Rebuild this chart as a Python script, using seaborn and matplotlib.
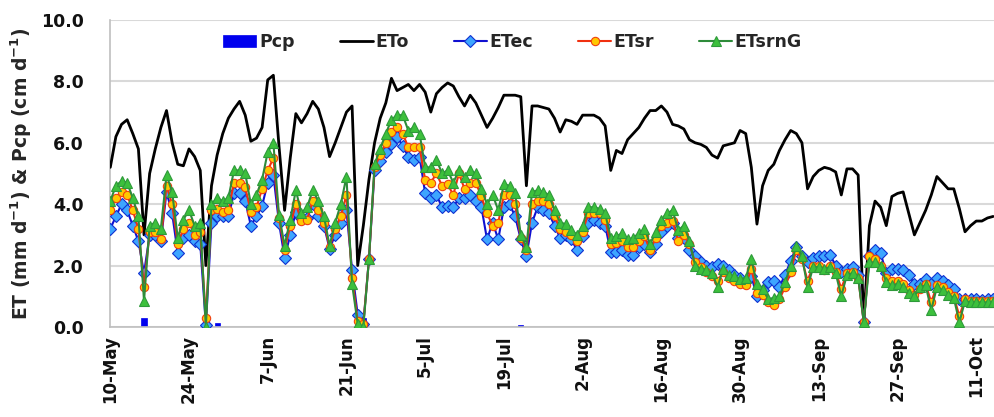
import matplotlib
matplotlib.use("Agg")
import numpy as np
import pandas as pd
import matplotlib.pyplot as plt
import matplotlib.dates as mdates
from matplotlib.ticker import FixedLocator, MultipleLocator, FormatStrFormatter
import seaborn as sns

# ---------------- data (daily, starting 10-May) ----------------
start_date = "2013-05-10"

ETo = [
    5.2, 6.2, 6.6, 6.75, 6.3, 5.8, 3.0, 5.0, 5.8, 6.5,
    7.05, 6.0, 5.3, 5.25, 5.8, 5.55, 5.1, 2.0, 4.6, 5.6,
    6.3, 6.8, 7.1, 7.35, 6.9, 6.05, 6.15, 6.5, 8.05, 8.2,
    5.9, 3.8, 5.5, 6.95, 6.65, 6.95, 7.35, 7.1, 6.5, 5.55,
    6.0, 6.5, 7.0, 7.2, 2.0, 3.3, 4.8, 6.0, 6.8, 7.3,
    8.1, 7.7, 7.8, 7.9, 7.7, 7.9, 7.65, 7.0, 7.6, 7.8,
    7.95, 7.85, 7.5, 7.2, 7.55, 7.3, 6.9, 6.5, 6.8, 7.15,
    7.55, 7.55, 7.55, 7.5, 4.6, 7.2, 7.2, 7.15, 7.1, 6.8,
    6.35, 6.75, 6.7, 6.6, 6.9, 6.9, 6.9, 6.8, 6.55, 5.1,
    5.75, 5.65, 6.1, 6.3, 6.5, 6.8, 7.05, 7.05, 7.2, 7.0,
    6.6, 6.55, 6.45, 6.1, 6.0, 5.95, 5.85, 5.6, 5.5, 5.9,
    5.95, 6.0, 6.4, 6.3, 5.2, 3.35, 4.6, 5.1, 5.3, 5.75,
    6.1, 6.4, 6.3, 6.0, 4.5, 4.9, 5.1, 5.2, 5.15, 5.05,
    4.3, 5.15, 5.15, 4.95, 0.15, 3.3, 4.1, 3.9, 3.3, 4.25,
    4.35, 4.4, 3.7, 3.0, 3.4, 3.8, 4.3, 4.9, 4.7, 4.5,
    4.5, 3.85, 3.1, 3.3, 3.45, 3.45, 3.55, 3.6,
]

ETec = [
    3.2, 3.6, 4.0, 3.8, 3.3, 2.8, 1.75, 3.0, 3.0, 2.8,
    4.4, 3.7, 2.4, 2.9, 3.0, 2.8, 2.7, 0.05, 3.4, 3.6,
    3.6, 3.6, 4.35, 4.35, 4.1, 3.3, 3.6, 3.95, 4.7, 4.95,
    3.4, 2.25, 3.0, 3.75, 3.55, 3.55, 4.0, 3.6, 3.3, 2.55,
    3.0, 3.4, 3.8, 1.85, 0.4, 0.1, 2.2, 5.1, 5.4, 5.7,
    5.95, 6.2, 5.9, 5.55, 5.45, 5.55, 4.35, 4.2, 4.3, 3.9,
    3.95, 3.9, 4.2, 4.2, 4.3, 4.1, 3.9, 2.85, 3.4, 2.85,
    3.9, 4.0, 3.6, 2.85, 2.3, 3.4, 3.9, 3.8, 3.7, 3.3,
    2.9, 3.0, 2.85, 2.5, 2.95, 3.4, 3.5, 3.4, 3.3, 2.45,
    2.45, 2.5, 2.35, 2.35, 2.6, 2.7, 2.45, 2.7, 3.1, 3.3,
    3.4, 2.9, 2.9, 2.5, 2.3, 2.1, 2.0, 1.95, 2.05, 2.0,
    1.85, 1.7, 1.6, 1.5, 1.65, 1.0, 1.2, 1.45, 1.5, 1.3,
    1.7, 2.15, 2.6, 2.3, 2.1, 2.25, 2.3, 2.3, 2.35, 2.0,
    1.8, 1.9, 1.95, 1.7, 0.15, 2.3, 2.5, 2.4, 1.75, 1.9,
    1.9, 1.85, 1.7, 1.4, 1.4, 1.55, 1.4, 1.6, 1.5, 1.35,
    1.25, 0.9, 0.9, 0.9, 0.9, 0.88, 0.9, 0.9,
]

ETsr = [
    3.8, 4.2, 4.4, 4.3, 3.8, 3.2, 1.3, 3.1, 3.1, 2.85,
    4.6, 4.0, 2.7, 3.2, 3.4, 3.0, 3.1, 0.3, 3.8, 3.85,
    3.75, 3.8, 4.7, 4.7, 4.55, 3.75, 3.9, 4.5, 5.1, 5.5,
    3.55, 2.5, 3.3, 4.0, 3.45, 3.5, 4.1, 3.8, 3.4, 2.6,
    3.2, 3.6, 4.3, 1.6, 0.2, 0.1, 2.2, 5.2, 5.6, 6.0,
    6.35, 6.5, 6.3, 5.85, 5.85, 5.85, 4.8, 4.7, 5.0, 4.6,
    4.65, 4.3, 5.0, 4.5, 4.7, 4.7, 4.25, 3.7, 3.3, 3.4,
    4.3, 4.3, 4.0, 2.9, 2.5, 4.0, 4.1, 4.1, 4.0, 3.6,
    3.2, 3.1, 3.0, 2.8, 3.1, 3.7, 3.7, 3.7, 3.5, 2.7,
    2.75, 2.8, 2.6, 2.6, 2.8, 2.95, 2.5, 2.9, 3.3, 3.4,
    3.45, 2.8, 3.0, 2.7, 2.1, 1.95, 1.8, 1.65, 1.5, 1.8,
    1.6, 1.5, 1.4, 1.35, 1.9, 1.1, 1.05, 0.8, 0.7, 0.9,
    1.3, 1.8, 2.5, 2.2, 1.5, 2.0, 2.0, 1.85, 2.0, 1.8,
    1.25, 1.75, 1.8, 1.6, 0.15, 2.3, 2.2, 2.0, 1.6, 1.5,
    1.5, 1.4, 1.2, 1.05, 1.25, 1.4, 0.8, 1.35, 1.3, 1.15,
    1.0, 0.35, 0.9, 0.85, 0.85, 0.85, 0.85, 0.85,
]

ETsrnG = [
    4.1, 4.6, 4.75, 4.7, 4.2, 3.6, 0.85, 3.3, 3.4, 3.2,
    4.95, 4.4, 2.9, 3.5, 3.8, 3.3, 3.4, 0.0, 4.0, 4.2,
    4.1, 4.2, 5.1, 5.1, 5.0, 4.0, 4.3, 4.8, 5.7, 6.0,
    3.65, 2.65, 3.5, 4.45, 3.7, 3.9, 4.45, 4.1, 3.6, 2.65,
    3.4, 4.0, 4.9, 1.4, 0.1, 0.0, 2.2, 5.3, 5.8, 6.3,
    6.75, 6.9, 6.9, 6.4, 6.5, 6.3, 5.2, 5.2, 5.45, 5.0,
    5.1, 4.7, 5.1, 4.9, 5.1, 5.0, 4.5, 4.0, 4.3, 3.8,
    4.65, 4.6, 4.35, 3.0, 2.6, 4.4, 4.45, 4.4, 4.3, 3.8,
    3.4, 3.35, 3.15, 3.0, 3.3, 3.9, 3.9, 3.85, 3.7, 2.9,
    2.95, 3.05, 2.85, 2.9, 3.05, 3.2, 2.7, 3.1, 3.5, 3.7,
    3.8, 3.15, 3.3, 2.8, 2.0, 1.9, 1.85, 1.75, 1.3, 1.9,
    1.7, 1.65, 1.55, 1.6, 2.2, 1.4, 1.25, 0.9, 0.95, 1.0,
    1.45, 2.0, 2.65, 2.3, 1.3, 1.95, 1.95, 1.9, 1.95, 1.75,
    1.0, 1.7, 1.75, 1.6, 0.15, 2.1, 2.1, 2.0, 1.45, 1.35,
    1.4, 1.3, 1.1, 1.0, 1.3, 1.35, 0.55, 1.3, 1.2, 1.05,
    0.95, 0.15, 0.85, 0.8, 0.8, 0.8, 0.8, 0.82,
]

pcp_dates = ["2013-05-16", "2013-05-29", "2013-06-24", "2013-07-22"]
pcp_values = [0.3, 0.12, 0.3, 0.05]

tick_labels_every_days = 14

# ---------------- build ----------------
dates = pd.date_range(start_date, periods=len(ETo), freq="D")
df = pd.DataFrame({"date": dates, "ETo": ETo, "ETec": ETec,
                   "ETsr": ETsr, "ETsrnG": ETsrnG})

sns.set_style("white")
plt.rcParams["font.family"] = ["DejaVu Sans"]
plt.rcParams["font.weight"] = "bold"
plt.rcParams["mathtext.default"] = "bf"

fig = plt.figure(figsize=(9.95, 4.17), dpi=100)
ax = fig.add_axes([0.1106, 0.216, 0.8894, 0.736])

bars = ax.bar(pd.to_datetime(pcp_dates), pcp_values, width=0.9,
              color="#0000EE", edgecolor="#0000EE", linewidth=0.5,
              label="Pcp", zorder=2)

sns.lineplot(data=df, x="date", y="ETo", ax=ax, color="black", lw=2.0,
             label="ETo", zorder=3)
sns.lineplot(data=df, x="date", y="ETec", ax=ax, color="#1010D0", lw=1.5,
             marker="D", markersize=6, markerfacecolor="#3DA5FF",
             markeredgecolor="#1030D0", markeredgewidth=0.8,
             label="ETec", zorder=4)
sns.lineplot(data=df, x="date", y="ETsr", ax=ax, color="#F03010", lw=1.5,
             marker="o", markersize=6, markerfacecolor="#FFC800",
             markeredgecolor="#F04010", markeredgewidth=0.8,
             label="ETsr", zorder=5)
sns.lineplot(data=df, x="date", y="ETsrnG", ax=ax, color="#2E8B3A", lw=1.5,
             marker="^", markersize=6.5, markerfacecolor="#3CC03C",
             markeredgecolor="#2E9A3A", markeredgewidth=0.8,
             label="ETsrnG", zorder=6)

# axes
ax.set_ylim(0, 10)
x0 = pd.Timestamp(start_date)
ax.set_xlim(x0 - pd.Timedelta(hours=1), dates[-1] + pd.Timedelta(hours=8))
ax.yaxis.set_major_locator(MultipleLocator(2))
ax.yaxis.set_minor_locator(MultipleLocator(1))
ax.yaxis.set_major_formatter(FormatStrFormatter("%.1f"))

major_ticks = [x0 + pd.Timedelta(days=k) for k in range(0, len(ETo), tick_labels_every_days)]
minor_ticks = [x0 + pd.Timedelta(days=k) for k in range(0, len(ETo), 7)]
ax.xaxis.set_major_locator(FixedLocator(mdates.date2num(major_ticks)))
ax.xaxis.set_minor_locator(FixedLocator(mdates.date2num(minor_ticks)))
ax.xaxis.set_major_formatter(mdates.DateFormatter("%-d-%b"))

ax.grid(axis="y", which="major", color="#D9D9D9", lw=1.5, zorder=0)
ax.set_axisbelow(True)
for s in ["top", "right"]:
    ax.spines[s].set_visible(False)
for s in ["left", "bottom"]:
    ax.spines[s].set_color("#BFBFBF")
    ax.spines[s].set_linewidth(1.2)

ax.tick_params(axis="y", which="major", length=0, pad=19, labelsize=12.5,
               labelcolor="#111111")
ax.tick_params(axis="y", which="minor", length=4, direction="in", color="#BFBFBF")
ax.tick_params(axis="x", which="both", length=5, direction="in", color="#BFBFBF")
ax.tick_params(axis="x", which="major", labelsize=12, labelrotation=90, pad=6,
               labelcolor="#111111")

ax.set_xlabel("")
ax.set_ylabel(r"ET (mm d$^{-1}$) & Pcp (cm d$^{-1}$)", fontsize=13.5,
              fontweight="bold", labelpad=5)

handles, labels = ax.get_legend_handles_labels()
order = ["Pcp", "ETo", "ETec", "ETsr", "ETsrnG"]
hmap = dict(zip(labels, handles))
leg = ax.legend([hmap[k] for k in order], order, loc="center",
                bbox_to_anchor=(0.455, 0.928), ncol=5, frameon=False,
                fontsize=12.5, handlelength=1.9, handletextpad=0.15,
                columnspacing=2.6, numpoints=1)

fig.savefig("out.png", dpi=100)
